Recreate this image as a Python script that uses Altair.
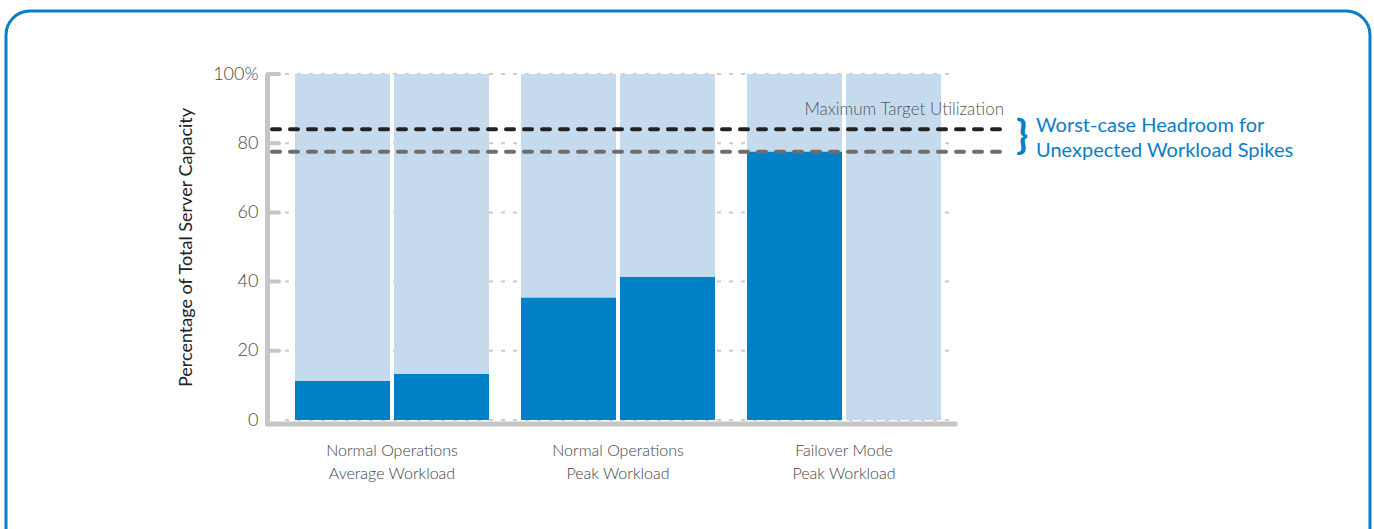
import altair as alt
import pandas as pd

# ---- data ----
groups = ["Normal Operations|Average Workload",
          "Normal Operations|Peak Workload",
          "Failover Mode|Peak Workload"]
servers = ["Server 1", "Server 2"]
utilization = [11.3, 13.3, 35.3, 41.3, 77.5, 0.0]   # % of server capacity used
capacity = [100, 100, 100, 100, 100, 100]
y_ticks = [0, 20, 40, 60, 80, 100]
max_target = 84.0          # Maximum Target Utilization
failover_peak = 77.5       # failover-mode peak utilization

rows = []
i = 0
for g in groups:
    for s in servers:
        rows.append({"group": g, "server": s, "util": utilization[i], "cap": capacity[i]})
        i += 1
df = pd.DataFrame(rows)
ticks_df = pd.DataFrame({"v": y_ticks})
lines_df = pd.DataFrame({"v": [max_target, failover_peak], "kind": ["target", "failover"]})
one = pd.DataFrame({"a": [0]})

FONT = "Lato"
W, H = 696, 346
DARK = "#0080C6"
LIGHT = "#C6DAEE"
AXIS = "#C6C6C6"

x_enc = alt.X("group:N", sort=groups,
              scale=alt.Scale(paddingInner=0.1416, paddingOuter=0.1106),
              axis=alt.Axis(title=None, domain=False, ticks=False,
                            labelExpr="split(datum.label, '|')",
                            labelAngle=0, labelPadding=22, labelFontSize=16,
                            labelLineHeight=23, labelColor="#444444",
                            labelFont=FONT, labelFontWeight=300))
xo_enc = alt.XOffset("server:N", sort=servers,
                     scale=alt.Scale(paddingInner=0.0404, paddingOuter=0))
y_scale = alt.Scale(domain=[0, 100], nice=False, zero=True)
y_axis = alt.Axis(values=y_ticks, domain=False, ticks=False, grid=False,
                  labelExpr="datum.value == 100 ? '100%' : datum.label",
                  labelPadding=12, labelFontSize=18, labelColor="#444444",
                  labelFont=FONT, labelFontWeight=300,
                  title="Percentage of Total Server Capacity",
                  titleFont=FONT, titleFontSize=18, titleFontWeight=400,
                  titleColor="#222222", titlePadding=17)

border = alt.Chart(one).mark_rect(fill="white", fillOpacity=0, stroke="#0B7DC6",
                                  strokeWidth=3, cornerRadius=24).encode(
    x=alt.value(-264), x2=alt.value(1100), y=alt.value(-63), y2=alt.value(480))

grid = alt.Chart(ticks_df).mark_rule(color="#CCCCCC", strokeWidth=2,
                                     strokeDash=[4, 8]).encode(
    y=alt.Y("v:Q", scale=y_scale, axis=y_axis),
    x=alt.value(15), x2=alt.value(685))

bg = alt.Chart(df).mark_bar(color=LIGHT).encode(
    x=x_enc, xOffset=xo_enc, y=alt.Y("cap:Q", scale=y_scale, axis=y_axis))
fg = alt.Chart(df).mark_bar(color=DARK).encode(
    x=x_enc, xOffset=xo_enc, y=alt.Y("util:Q", scale=y_scale, axis=y_axis))

axis_v = alt.Chart(one).mark_rule(color=AXIS, strokeWidth=5, strokeCap="round").encode(
    x=alt.value(-2.5), y=alt.value(1), y2=alt.value(H + 4))
axis_h = alt.Chart(one).mark_rule(color=AXIS, strokeWidth=5, strokeCap="round").encode(
    y=alt.value(H + 4), x=alt.value(-2.5), x2=alt.value(685))
tick_marks = alt.Chart(ticks_df).transform_filter("datum.v > 0").mark_rule(
    color=AXIS, strokeWidth=4, strokeCap="round").encode(
    y=alt.Y("v:Q", scale=y_scale, axis=y_axis), x=alt.value(-2), x2=alt.value(9))

ref_lines = alt.Chart(lines_df).mark_rule(strokeWidth=4, strokeDash=[8, 10],
                                          strokeCap="round").encode(
    y=alt.Y("v:Q", scale=y_scale, axis=y_axis),
    x=alt.value(2), x2=alt.value(733),
    color=alt.Color("kind:N", scale=alt.Scale(domain=["target", "failover"],
                                              range=["#222222", "#6E6E6E"]),
                    legend=None))

max_label = alt.Chart(one).mark_text(text="Maximum Target Utilization", align="right",
                                     baseline="middle", font=FONT, fontWeight=300,
                                     fontSize=17, color="#555555").encode(
    x=alt.value(734), y=alt.value(36))
brace = alt.Chart(one).mark_text(text="}", align="center", baseline="middle",
                                 font=FONT, fontWeight=700, fontSize=40,
                                 color="#0B7DC6").encode(
    x=alt.value(752), y=alt.value(63))
blue1 = alt.Chart(one).mark_text(text="Worst-case Headroom for", align="left",
                                 baseline="middle", font=FONT, fontWeight=400,
                                 fontSize=20, color="#0B7DC6").encode(
    x=alt.value(766), y=alt.value(52))
blue2 = alt.Chart(one).mark_text(text="Unexpected Workload Spikes", align="left",
                                 baseline="middle", font=FONT, fontWeight=400,
                                 fontSize=20, color="#0B7DC6").encode(
    x=alt.value(766), y=alt.value(77))

chart = alt.layer(border, grid, bg, fg, axis_v, axis_h, tick_marks, ref_lines,
                  max_label, brace, blue1, blue2).properties(
    width=W, height=H,
    autosize=alt.AutoSizeParams(type="none"),
    padding={"left": 270, "top": 74, "right": 408, "bottom": 109},
    background="white",
).configure_view(stroke=None)

chart.save("out.html", embed_options={"renderer": "svg", "actions": False})
